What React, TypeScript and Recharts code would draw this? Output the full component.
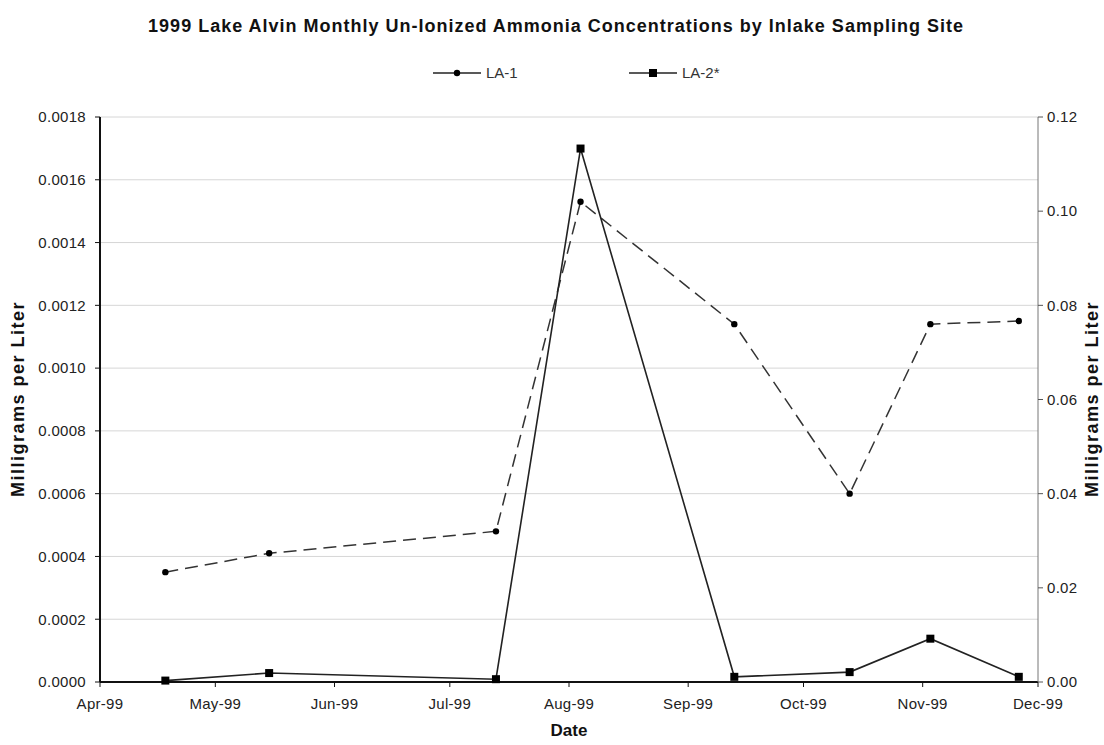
import React from 'react';
import { CartesianGrid, Line, LineChart, XAxis, YAxis } from 'recharts';

// Sampling dates and concentrations (mg/L) at the two in-lake sites
const sampleDates = [
  '1999-04-18',
  '1999-05-15',
  '1999-07-13',
  '1999-08-04',
  '1999-09-13',
  '1999-10-13',
  '1999-11-03',
  '1999-11-26',
];
const la1Values = [0.00035, 0.00041, 0.00048, 0.00153, 0.00114, 0.0006, 0.00114, 0.00115];
const la2Values = [0.0003, 0.0019, 0.0006, 0.1133, 0.0011, 0.0021, 0.0092, 0.0011];

const monthStarts = [
  '1999-04-01',
  '1999-05-01',
  '1999-06-01',
  '1999-07-01',
  '1999-08-01',
  '1999-09-01',
  '1999-10-01',
  '1999-11-01',
  '1999-12-01',
];
const monthLabels = ['Apr-99', 'May-99', 'Jun-99', 'Jul-99', 'Aug-99', 'Sep-99', 'Oct-99', 'Nov-99', 'Dec-99'];

const leftTicks = [0, 0.0002, 0.0004, 0.0006, 0.0008, 0.001, 0.0012, 0.0014, 0.0016, 0.0018];
const rightTicks = [0, 0.02, 0.04, 0.06, 0.08, 0.1, 0.12];

const FONT = '"Liberation Sans", Arial, sans-serif';

const toDay = (iso: string) => Date.parse(iso + 'T00:00:00Z') / 86400000;

const data = sampleDates.map((d, i) => ({
  day: toDay(d),
  la1: la1Values[i],
  la2: la2Values[i],
}));

const xTicks = monthStarts.map(toDay);
const xLabel = (v: number) => monthLabels[xTicks.indexOf(v)] ?? '';

const tickStyle = { fontSize: 15, fill: '#222', fontFamily: FONT, letterSpacing: 0.3 };

const RoundDot = (p: any) => <circle key={`la1-${p.index}`} cx={p.cx} cy={p.cy} r={3.2} fill="#000" />;
const SquareDot = (p: any) => (
  <rect key={`la2-${p.index}`} x={p.cx - 4} y={p.cy - 4} width={8} height={8} fill="#000" />
);

const axisTitle = (x: number, y: number) => (props: any) => (
  <text
    x={x}
    y={y}
    transform={`rotate(-90, ${x}, ${y})`}
    textAnchor="middle"
    dominantBaseline="central"
    fontFamily={FONT}
    fontWeight="bold"
    fontSize={18}
    letterSpacing={1.5}
    fill="#111"
  >
    Milligrams per Liter
  </text>
);

const LegendItem = ({ label, square }: { label: string; square?: boolean }) => (
  <div style={{ display: 'flex', alignItems: 'center' }}>
    <svg width={48} height={12}>
      <line x1={0} y1={6} x2={48} y2={6} stroke="#222" strokeWidth={1.5} />
      {square ? <rect x={20} y={2} width={8} height={8} fill="#000" /> : <circle cx={24} cy={6} r={3.2} fill="#000" />}
    </svg>
    <span style={{ marginLeft: 5, fontSize: 15, color: '#333' }}>{label}</span>
  </div>
);

export default function App() {
  return (
    <div
      style={{
        position: 'absolute',
        left: 0,
        top: 0,
        width: 1104,
        height: 745,
        background: '#fff',
        fontFamily: FONT,
      }}
    >
      <div
        style={{
          position: 'absolute',
          left: 0,
          width: 1112,
          top: 16,
          textAlign: 'center',
          fontSize: 18,
          letterSpacing: 1,
          fontWeight: 'bold',
          color: '#111',
        }}
      >
        1999 Lake Alvin Monthly Un-Ionized Ammonia Concentrations by Inlake Sampling Site
      </div>

      <div style={{ position: 'absolute', left: 433, top: 64 }}>
        <LegendItem label="LA-1" />
      </div>
      <div style={{ position: 'absolute', left: 629, top: 64 }}>
        <LegendItem label="LA-2*" square />
      </div>

      <LineChart width={1104} height={745} data={data} margin={{ top: 117, right: 16, bottom: 23, left: 40 }}>
        <CartesianGrid vertical={false} stroke="#d6d6d6" yAxisId="left" />
        <XAxis
          dataKey="day"
          type="number"
          domain={[xTicks[0], xTicks[xTicks.length - 1]]}
          ticks={xTicks}
          tickFormatter={xLabel}
          height={40}
          tick={tickStyle}
          tickSize={5}
          tickMargin={11}
          axisLine={{ stroke: '#111', strokeWidth: 2 }}
          tickLine={{ stroke: '#111' }}
          label={{
            value: 'Date',
            position: 'insideBottom',
            offset: -14,
            style: { fontSize: 17, fontWeight: 'bold', fill: '#111', fontFamily: FONT },
          }}
        />
        <YAxis
          yAxisId="left"
          domain={[0, 0.0018]}
          ticks={leftTicks}
          tickFormatter={(v: number) => v.toFixed(4)}
          width={60}
          tick={tickStyle}
          tickSize={5}
          tickMargin={9}
          axisLine={{ stroke: '#111', strokeWidth: 2 }}
          tickLine={{ stroke: '#111' }}
          label={{ content: axisTitle(18, 399) }}
        />
        <YAxis
          yAxisId="right"
          orientation="right"
          domain={[0, 0.12]}
          ticks={rightTicks}
          tickFormatter={(v: number) => v.toFixed(2)}
          width={50}
          tick={tickStyle}
          tickSize={5}
          tickMargin={4}
          axisLine={{ stroke: '#777' }}
          tickLine={{ stroke: '#555' }}
          label={{ content: axisTitle(1092, 399) }}
        />
        <Line
          yAxisId="left"
          dataKey="la1"
          name="LA-1"
          stroke="#333"
          strokeWidth={1.5}
          strokeDasharray="13 7"
          dot={RoundDot}
          activeDot={false}
          isAnimationActive={false}
        />
        <Line
          yAxisId="right"
          dataKey="la2"
          name="LA-2*"
          stroke="#222"
          strokeWidth={1.6}
          dot={SquareDot}
          activeDot={false}
          isAnimationActive={false}
        />
      </LineChart>
    </div>
  );
}
